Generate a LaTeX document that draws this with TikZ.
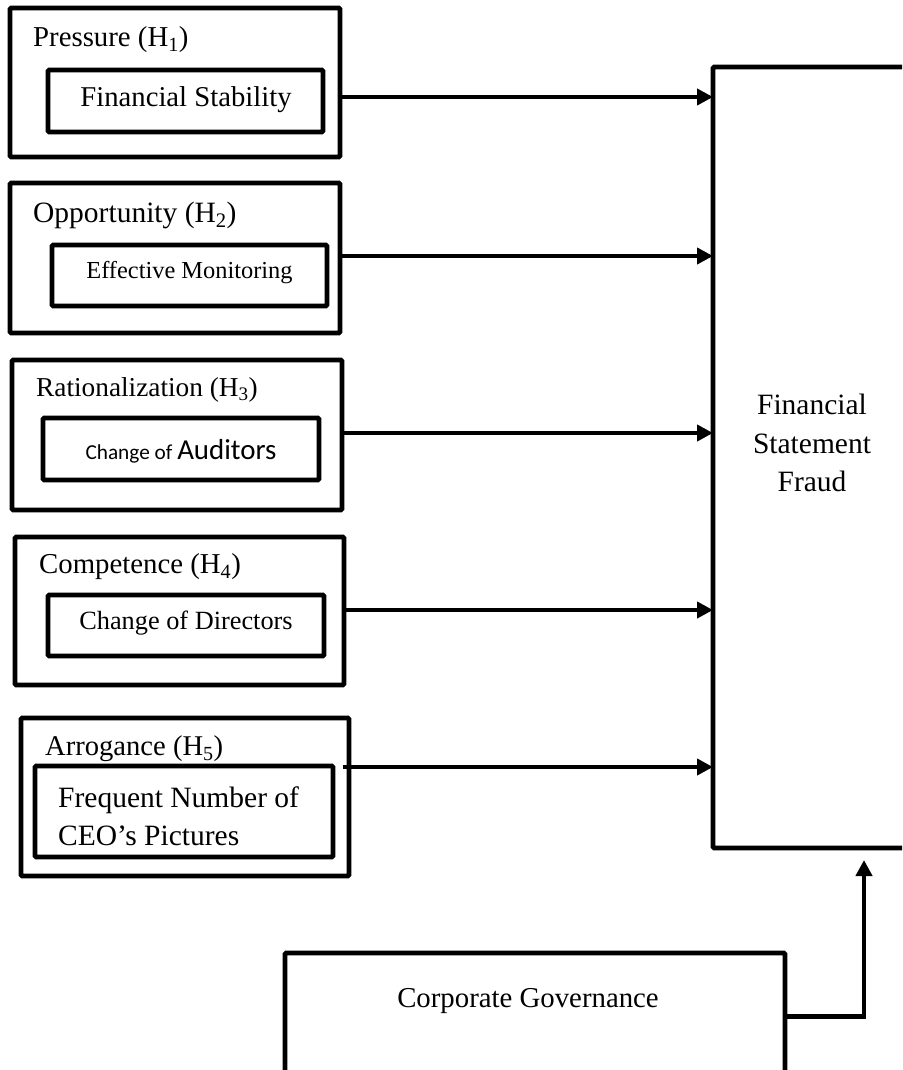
\documentclass[tikz,border=0pt]{standalone}
\usepackage{fontspec}
\setmainfont{Liberation Serif}
\newfontfamily\calfont{Carlito}
\usetikzlibrary{arrows.meta}
\newcommand{\fsz}[1]{\fontsize{#1}{#1}\selectfont}
\begin{document}
\begin{tikzpicture}[x=1pt,y=-1pt,
  box/.style={draw,line width=4.8pt,rounded corners=1.2pt,inner sep=0pt,outer sep=0pt},
  arr/.style={line width=4.8pt,-{Triangle[length=16pt,width=16pt]}},
  ttl/.style={inner sep=0pt,anchor=west},
  lbl/.style={inner sep=0pt}]
\clip (0,0) rectangle (902,1070);
\fill[white] (0,0) rectangle (902,1070);

% Pressure
\node[box,minimum width=330,minimum height=149] (o1) at (175,82.5) {};
\node[box,minimum width=275,minimum height=62] (i1) at (185.5,101) {};
\node[ttl,font=\fsz{28.8}] (t1) at (33,40) {Pressure (H\textsubscript{1})};
\node[lbl,font=\fsz{28.7}] (l1) at (186,100) {Financial Stability};

% Opportunity
\node[box,minimum width=330,minimum height=150] (o2) at (175,258) {};
\node[box,minimum width=275,minimum height=61] (i2) at (189.5,275.5) {};
\node[ttl,font=\fsz{29.5}] (t2) at (33,215) {Opportunity (H\textsubscript{2})};
\node[lbl,font=\fsz{24.4}] (l2) at (189.5,273) {Effective Monitoring};

% Rationalization
\node[box,minimum width=330,minimum height=150] (o3) at (177,435) {};
\node[box,minimum width=276,minimum height=62] (i3) at (181,449) {};
\node[ttl,font=\fsz{27.3}] (t3) at (36,390) {Rationalization (H\textsubscript{3})};
\node[lbl] (l3) at (181,451) {\calfont\fsz{21.3}Change of \fsz{28.9}Auditors};

% Competence
\node[box,minimum width=329,minimum height=148] (o4) at (179.5,611) {};
\node[box,minimum width=276,minimum height=61] (i4) at (186,625.5) {};
\node[ttl,font=\fsz{28.8}] (t4) at (39,567) {Competence (H\textsubscript{4})};
\node[lbl,font=\fsz{26.3}] (l4) at (186,623) {Change of Directors};

% Arrogance
\node[box,minimum width=328,minimum height=158] (o5) at (185,797) {};
\node[box,minimum width=298,minimum height=91] (i5) at (184,811.5) {};
\node[ttl,font=\fsz{28.6}] (t5) at (45,749) {Arrogance (H\textsubscript{5})};
\node[ttl,align=left,font=\fontsize{29.5}{38}\selectfont] (l5) at (58,816) {Frequent Number of\\CEO’s Pictures};

% Financial Statement Fraud
\node[box,minimum width=247,minimum height=781] (fsf) at (836.5,457.5) {};
\node[lbl,align=center,font=\fontsize{29.5}{38.5}\selectfont] (fsft) at (812,443) {Financial\\Statement\\Fraud};

% Corporate Governance
\node[box,minimum width=500,minimum height=127] (cg) at (535,1016.5) {};
\node[lbl,font=\fsz{28.8}] (cgt) at (528,1001) {Corporate Governance};
\coordinate (cgend) at (864,860);

% connectors
\draw[arr] (o1.east |- 0,97) -- (fsf.west |- 0,97);
\draw[arr] (o2.east |- 0,256) -- (fsf.west |- 0,256);
\draw[arr] (o3.east |- 0,433) -- (fsf.west |- 0,433);
\draw[arr] (o4.east |- 0,610) -- (fsf.west |- 0,610);
\draw[arr] ([xshift=-6pt]o5.east |- 0,767) -- (fsf.west |- 0,767);
\draw[arr] (cg.east) -| (cgend);
\end{tikzpicture}
\end{document}
